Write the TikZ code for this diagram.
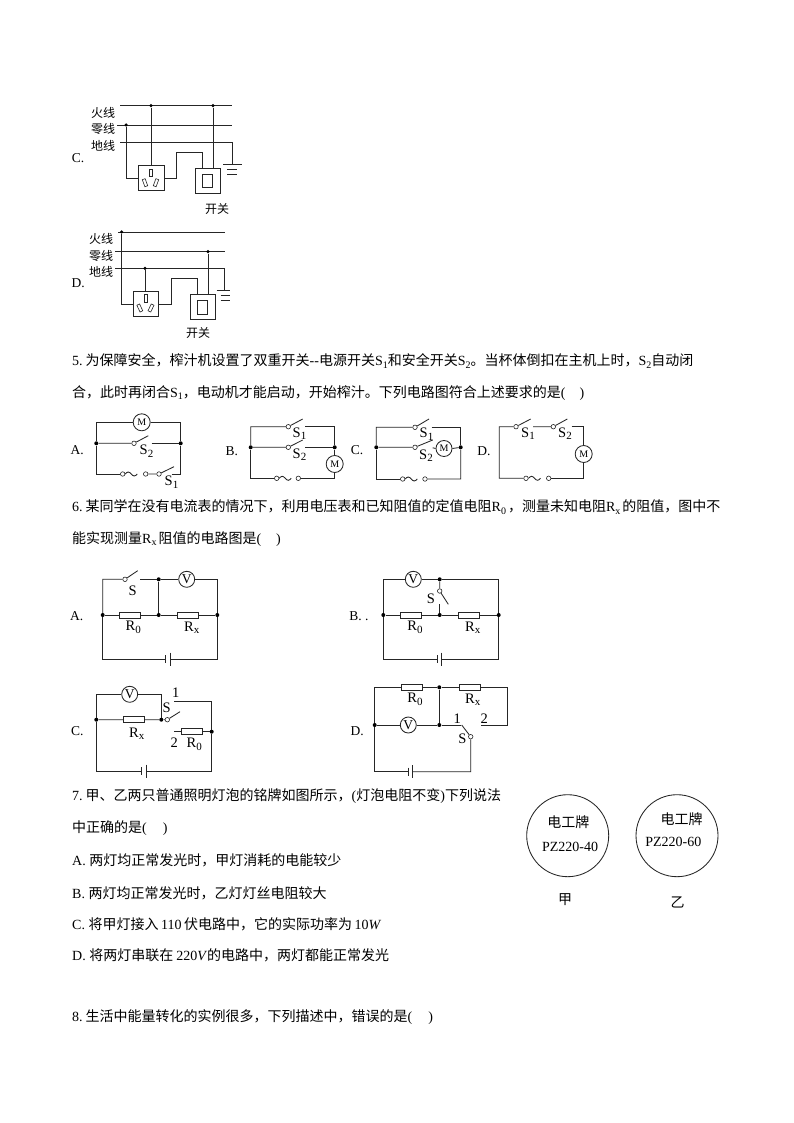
\documentclass[tikz,border=0pt]{standalone}
\usepackage{fontspec}
\setmainfont{Liberation Serif}
\newfontfamily\cjk{Noto Sans CJK SC}
\newcommand{\fz}[1]{\fontsize{#1}{#1}\selectfont}
\newcommand{\lat}[1]{{\rmfamily #1}}
\newcommand{\dn}[2][10]{\raisebox{-2.5pt}{\fz{#1}\rmfamily #2}}
\newcommand{\zc}{\char"FF0C\relax}
\tikzset{
  wire/.style={draw=black!85,line width=0.85pt},
  joint/.style={circle,fill=black,inner sep=0pt,minimum size=4pt},
  contact/.style={circle,draw=black!85,line width=0.6pt,inner sep=0pt,minimum size=4.5pt},
  motor/.style={circle,draw=black!85,line width=0.85pt,inner sep=0pt,minimum size=17pt,font=\fz{10}\rmfamily},
  meter/.style={circle,draw=black!85,line width=0.85pt,inner sep=0pt,minimum size=16pt,font=\fz{13.5}\rmfamily},
  resistor/.style={rectangle,draw=black!85,line width=0.7pt,inner sep=0pt,minimum width=21pt,minimum height=6pt},
  txt/.style={anchor=west,inner sep=0pt,font=\fz{14}\cjk},
  lab/.style={inner sep=0pt,font=\fz{14.5}\rmfamily},
  opt/.style={inner sep=0pt,font=\fz{13.5}\rmfamily},
  zhlab/.style={inner sep=0pt,font=\fz{12}\cjk},
  box/.style={rectangle,draw=black!85,line width=0.85pt,inner sep=0pt},
  hole/.style={rectangle,draw=black!85,line width=0.6pt,inner sep=0pt,minimum width=3pt,minimum height=7.5pt},
}
\begin{document}
\begin{tikzpicture}[x=1pt,y=-1pt]
\useasboundingbox (0,0) rectangle (794,1123);
\fill[white] (0,0) rectangle (794,1123);

% ---------- Q4 C
\node[zhlab] (cL1) at (103,112.7) {火线};
\node[zhlab] (cL2) at (103,129) {零线};
\node[zhlab] (cL3) at (103,146) {地线};
\node[opt] (cOpt) at (78,158) {C.};
\node[zhlab] (cSw) at (217,209) {开关};
\coordinate (cFs) at (120,105.7); \coordinate (cFe) at (232,105.7);
\coordinate (cNs) at (117,125); \coordinate (cNe) at (232,125);
\coordinate (cEs) at (120,142); \coordinate (cEc) at (232,142); \coordinate (cEe) at (232,164);
\draw[wire] (cFs) -- (cFe);
\draw[wire] (cNs) -- (cNe);
\draw[wire] (cEs) -- (cEc) -- (cEe);
\coordinate (cG1a) at (223,164); \coordinate (cG1b) at (242,164);
\coordinate (cG2a) at (227,169.5); \coordinate (cG2b) at (237,169.5);
\coordinate (cG3a) at (227,174.5); \coordinate (cG3b) at (237,174.5);
\draw[wire] (cG1a) -- (cG1b) (cG2a) -- (cG2b) (cG3a) -- (cG3b);
\node[joint,minimum size=3.5pt] (cD1) at (151,105.7) {};
\node[joint,minimum size=3.5pt] (cD2) at (213,105.7) {};
\node[joint,minimum size=3.5pt] (cD3) at (126,125) {};
\node[box,minimum width=25.7pt,minimum height=25pt] (cSock) at (151.2,178.2) {};
\node[box,minimum width=25.7pt,minimum height=25pt] (cSwO) at (207.8,180.8) {};
\node[box,minimum width=10pt,minimum height=13.3pt] (cSwI) at (207.7,180.7) {};
\node[hole] (cH1) at (151,173) {};
\node[hole,rotate=20] (cH2) at (145,182.7) {};
\node[hole,rotate=-20] (cH3) at (156,182.7) {};
\draw[wire] (cD1) -- (cD1 |- cSock.north);
\draw[wire] (cD2) -- (cD2 |- cSwO.north);
\draw[wire] (cD3) |- (cSock.west);
\coordinate (cU1) at (176.7,178.2); \coordinate (cU2) at (176.7,152.3); \coordinate (cU3) at (202.7,152.3);
\draw[wire] (cSock.east) -- (cU1) -- (cU2) -- (cU3) -- (cU3 |- cSwO.north);

% ---------- Q4 D
\node[zhlab] (dL1) at (101,239.3) {火线};
\node[zhlab] (dL2) at (101,255.5) {零线};
\node[zhlab] (dL3) at (101,271.7) {地线};
\node[opt] (dOpt) at (78.3,283.3) {D.};
\node[zhlab] (dSw) at (198,332.7) {开关};
\coordinate (dFs) at (118,232); \coordinate (dFe) at (225,232);
\coordinate (dNs) at (115,251.7); \coordinate (dNe) at (225,251.7);
\coordinate (dEs) at (115,268.3); \coordinate (dEc) at (224.3,268.3); \coordinate (dEe) at (224.3,290);
\draw[wire] (dFs) -- (dFe);
\draw[wire] (dNs) -- (dNe);
\draw[wire] (dEs) -- (dEc) -- (dEe);
\coordinate (dG1a) at (216.7,290); \coordinate (dG1b) at (230,290);
\coordinate (dG2a) at (220.7,295.3); \coordinate (dG2b) at (230,295.3);
\coordinate (dG3a) at (220.7,300.3); \coordinate (dG3b) at (230,300.3);
\draw[wire] (dG1a) -- (dG1b) (dG2a) -- (dG2b) (dG3a) -- (dG3b);
\node[joint,minimum size=3.5pt] (dD1) at (121.7,232) {};
\node[joint,minimum size=3.5pt] (dD2) at (208,251.7) {};
\node[joint,minimum size=3.5pt] (dD3) at (145,268.3) {};
\node[box,minimum width=25.4pt,minimum height=25.4pt] (dSock) at (146,304) {};
\node[box,minimum width=25.7pt,minimum height=25.3pt] (dSwO) at (202.8,306.7) {};
\node[box,minimum width=10pt,minimum height=13.3pt] (dSwI) at (202.7,307.3) {};
\node[hole] (dH1) at (146,298.5) {};
\node[hole,rotate=25] (dH2) at (139.8,308) {};
\node[hole,rotate=-25] (dH3) at (151,308) {};
\draw[wire] (dD1) |- (dSock.west);
\draw[wire] (dD3) -- (dD3 |- dSock.north);
\draw[wire] (dD2) -- (dD2 |- dSwO.north);
\coordinate (dU1) at (171.7,304); \coordinate (dU2) at (171.7,278.3); \coordinate (dU3) at (197.7,278.3);
\draw[wire] (dSock.east) -- (dU1) -- (dU2) -- (dU3) -- (dU3 |- dSwO.north);

% ---------- text Q5
\node[txt] (t51) at (72,361) {\lat{5.}\hspace{3pt}为保障安全\zc 榨汁机设置了双重开关\lat{-{}-}电源开关\lat{S}\dn{1}和安全开关\lat{S}\dn{2}。当杯体倒扣在主机上时\zc\lat{S}\dn{2}自动闭};
\node[txt] (t52) at (72,393) {合\zc 此时再闭合\lat{S}\dn{1}\zc 电动机才能启动\zc 开始榨汁。下列电路图符合上述要求的是\lat{(\hspace{14pt})}};

% Q5 A
\node[opt] (p5A) at (77.3,450) {A.};
\coordinate (aTL) at (96.3,422.3); \coordinate (aTR) at (180.7,422.3);
\coordinate (aBL) at (96.3,474); \coordinate (aBR) at (180.7,474);
\node[joint] (aJL) at (96.3,443.3) {};
\node[joint] (aJR) at (180.7,443.3) {};
\node[motor] (aM) at (141.7,422.3) {M};
\node[contact] (aC1) at (134,443.3) {};
\coordinate (aE1) at (148.3,435.7); \coordinate (aW1) at (151.7,443.3);
\node[contact] (aC2) at (122.7,474) {};
\node[contact] (aC3) at (145.7,474) {};
\node[contact] (aC4) at (159,474) {};
\coordinate (aE2) at (174,466.7); \coordinate (aW2) at (171.5,474);
\draw[wire] (aJL) -- (aTL) -- (aM) -- (aTR) -- (aJR);
\draw[wire] (aJL) -- (aC1) -- (aE1);
\draw[wire] (aW1) -- (aJR);
\draw[wire] (aJL) -- (aBL) -- (aC2);
\draw[wire] (aC3) -- (aC4) -- (aE2);
\draw[wire] (aW2) -- (aBR) -- (aJR);
\draw[wire] (aC2.east) sin ++(3,-2) cos ++(3,2) sin ++(3,2) cos ++(3,-2);
\node[lab] (aS2) at (146.5,451) {S\dn[11]{2}};
\node[lab] (aS1) at (171.5,482) {S\dn[11]{1}};

% Q5 B
\node[opt] (p5B) at (231.7,450.7) {B.};
\coordinate (bTL) at (250.7,426.7); \coordinate (bTR) at (334.7,426.7);
\coordinate (bBL) at (250.7,478.3); \coordinate (bBR) at (334.7,478.3);
\node[joint] (bJL) at (250.7,447.3) {};
\node[joint] (bJR) at (334.7,447.3) {};
\node[motor] (bM) at (334.7,464) {M};
\node[contact] (bC1) at (288.3,426.7) {};
\node[contact] (bC2) at (288.3,447.3) {};
\coordinate (bE1) at (302.7,419); \coordinate (bW1) at (305,426.7);
\coordinate (bE2) at (302.7,440); \coordinate (bW2) at (305,447.3);
\node[contact] (bC3) at (276.7,478.3) {};
\node[contact] (bC4) at (298.3,478.3) {};
\draw[wire] (bJL) -- (bTL) -- (bC1) -- (bE1);
\draw[wire] (bW1) -- (bTR) -- (bJR);
\draw[wire] (bJL) -- (bC2) -- (bE2);
\draw[wire] (bW2) -- (bJR) -- (bM) -- (bBR) -- (bC4);
\draw[wire] (bJL) -- (bBL) -- (bC3);
\draw[wire] (bC3.east) sin ++(3,-2) cos ++(3,2) sin ++(3,2) cos ++(3,-2);
\node[lab] (bS1) at (299.5,433.5) {S\dn[11]{1}};
\node[lab] (bS2) at (299.5,454.5) {S\dn[11]{2}};

% Q5 C
\node[opt] (p5C) at (357,450) {C.};
\coordinate (ccTL) at (376.3,427.3); \coordinate (ccTR) at (460.7,427.3);
\coordinate (ccBL) at (376.3,479); \coordinate (ccBR) at (460.7,479);
\node[joint] (ccJL) at (376.3,447.3) {};
\node[joint] (ccJR) at (460.7,447.3) {};
\node[contact] (ccC1) at (415,427.3) {};
\node[contact] (ccC2) at (415,447.3) {};
\coordinate (ccE1) at (429,419); \coordinate (ccW1) at (431.7,427.3);
\coordinate (ccE2) at (432.7,440); \coordinate (ccW2) at (432.7,447.8);
\node[motor,minimum size=16pt] (ccM) at (444,448.5) {M};
\node[contact] (ccC3) at (402.7,479) {};
\node[contact] (ccC4) at (425,479) {};
\draw[wire] (ccJL) -- (ccTL) -- (ccC1) -- (ccE1);
\draw[wire] (ccW1) -- (ccTR) -- (ccJR);
\draw[wire] (ccJL) -- (ccC2) -- (ccE2);
\draw[wire] (ccW2) -- (ccM.west);
\draw[wire] (ccM.east) -- (ccJR) -- (ccBR) -- (ccC4);
\draw[wire] (ccJL) -- (ccBL) -- (ccC3);
\draw[wire] (ccC3.east) sin ++(3,-2) cos ++(3,2) sin ++(3,2) cos ++(3,-2);
\node[lab] (ccS1) at (426.5,434) {S\dn[11]{1}};
\node[lab] (ccS2) at (426,455.5) {S\dn[11]{2}};

% Q5 D
\node[opt] (p5D) at (484,450.7) {D.};
\coordinate (ddTL) at (499.3,426.7); \coordinate (ddTR) at (583.7,426.7);
\coordinate (ddBL) at (499.3,478.3); \coordinate (ddBR) at (583.7,478.3);
\node[contact] (ddC1) at (516,426.7) {};
\node[contact] (ddC2) at (553.3,426.7) {};
\coordinate (ddE1) at (530.7,419); \coordinate (ddW1) at (533,426.7);
\coordinate (ddE2) at (567.3,419); \coordinate (ddW2) at (571.7,426.7);
\node[motor] (ddM) at (583.7,454) {M};
\node[contact] (ddC3) at (526,478.3) {};
\node[contact] (ddC4) at (548.7,478.3) {};
\draw[wire] (ddC3) -- (ddBL) -- (ddTL) -- (ddC1) -- (ddE1);
\draw[wire] (ddW1) -- (ddC2) -- (ddE2);
\draw[wire] (ddW2) -- (ddTR) -- (ddM) -- (ddBR) -- (ddC4);
\draw[wire] (ddC3.east) sin ++(3,-2) cos ++(3,2) sin ++(3,2) cos ++(3,-2);
\node[lab] (ddS1) at (528,433.5) {S\dn[11]{1}};
\node[lab] (ddS2) at (565,433.5) {S\dn[11]{2}};

% ---------- text Q6
\node[txt] (t61) at (72,507) {\lat{6.}\hspace{3pt}某同学在没有电流表的情况下\zc 利用电压表和已知阻值的定值电阻\lat{R}\dn{0}\hspace{2pt}\zc 测量未知电阻\lat{R}\dn{x}\hspace{2pt}的阻值\zc 图中不};
\node[txt] (t62) at (72,539) {能实现测量\lat{R}\dn{x}\hspace{2pt}阻值的电路图是\lat{(\hspace{15pt})}};

% Q6 A
\node[opt] (p6A) at (76.7,616) {A.};
\coordinate (eTL) at (102.7,579.3); \coordinate (eTR) at (217.3,579.3);
\coordinate (eBL) at (102.7,659); \coordinate (eBR) at (217.3,659);
\node[contact] (eC) at (125,579.3) {};
\coordinate (eE) at (137.7,570.7); \coordinate (eW) at (140,579.3);
\node[meter] (eV) at (186.7,579.3) {V};
\node[joint] (eJ1) at (158.7,579.3) {};
\node[joint] (eJ2) at (158.7,615) {};
\node[joint] (eJL) at (102.7,615) {};
\node[joint] (eJR) at (217.3,615) {};
\node[resistor] (eR0) at (130,615) {};
\node[resistor] (eRx) at (188,615) {};
\coordinate (eB1) at (165.3,659); \coordinate (eB2) at (170,659);
\coordinate (eB1t) at (165.3,655); \coordinate (eB1b) at (165.3,663);
\coordinate (eB2t) at (170,652.5); \coordinate (eB2b) at (170,665.5);
\draw[wire] (eJL) -- (eTL) -- (eC) -- (eE);
\draw[wire] (eW) -- (eJ1) -- (eV) -- (eTR) -- (eJR);
\draw[wire] (eJ1) -- (eJ2);
\draw[wire] (eJL) -- (eR0) -- (eJ2) -- (eRx) -- (eJR);
\draw[wire] (eJL) -- (eBL) -- (eB1);
\draw[wire] (eB2) -- (eBR) -- (eJR);
\draw[wire] (eB1t) -- (eB1b) (eB2t) -- (eB2b);
\node[lab] (eS) at (132.7,590.7) {S};
\node[lab] (eR0t) at (133.3,627.5) {R\dn[11]{0}};
\node[lab] (eRxt) at (191.7,627.5) {R\dn[11]{x}};

% Q6 B
\node[opt] (p6B) at (359,616) {B. .};
\coordinate (fTL) at (383.3,579.3); \coordinate (fTR) at (498.7,579.3);
\coordinate (fBL) at (383.3,659); \coordinate (fBR) at (498.7,659);
\node[meter] (fV) at (413.3,579.3) {V};
\node[joint] (fJ1) at (439.7,579.3) {};
\node[joint] (fJ2) at (439.7,615) {};
\node[joint] (fJL) at (383.3,615) {};
\node[joint] (fJR) at (498.7,615) {};
\node[contact] (fC) at (439.7,591) {};
\coordinate (fE) at (448.3,604.3); \coordinate (fW) at (439.7,604.3);
\node[resistor] (fR0) at (410.7,615) {};
\node[resistor] (fRx) at (469,615) {};
\coordinate (fB1) at (437.3,659); \coordinate (fB2) at (441.7,659);
\coordinate (fB1t) at (437.3,655); \coordinate (fB1b) at (437.3,663);
\coordinate (fB2t) at (441.7,652.5); \coordinate (fB2b) at (441.7,665.5);
\draw[wire] (fJL) -- (fTL) -- (fV) -- (fJ1) -- (fTR) -- (fJR);
\draw[wire] (fJ1) -- (fC) -- (fE);
\draw[wire] (fW) -- (fJ2);
\draw[wire] (fJL) -- (fR0) -- (fJ2) -- (fRx) -- (fJR);
\draw[wire] (fJL) -- (fBL) -- (fB1);
\draw[wire] (fB2) -- (fBR) -- (fJR);
\draw[wire] (fB1t) -- (fB1b) (fB2t) -- (fB2b);
\node[lab] (fS) at (431,598.3) {S};
\node[lab] (fR0t) at (415,627.5) {R\dn[11]{0}};
\node[lab] (fRxt) at (472.7,627.5) {R\dn[11]{x}};

% Q6 C
\node[opt] (p6C) at (77.3,731) {C.};
\coordinate (gTL) at (96.3,694.3); \coordinate (gTR) at (161.3,694.3);
\coordinate (gBL) at (96.3,771); \coordinate (gBR) at (211.7,771);
\coordinate (gTC) at (174,701); \coordinate (gTE) at (211.7,701);
\coordinate (gR2) at (174,731.7);
\node[meter] (gV) at (129.7,694.3) {V};
\node[joint] (gJL) at (96.3,719.7) {};
\node[joint] (gJR) at (161.3,719.7) {};
\node[joint] (gJ3) at (211.7,731.7) {};
\node[contact] (gC) at (167.3,719.7) {};
\coordinate (gE) at (180,711.7);
\node[resistor] (gRx) at (134,719.7) {};
\node[resistor] (gR0) at (192.2,731.7) {};
\coordinate (gB1) at (141.7,771); \coordinate (gB2) at (146,771);
\coordinate (gB1t) at (141.7,767); \coordinate (gB1b) at (141.7,775);
\coordinate (gB2t) at (146,764.5); \coordinate (gB2b) at (146,777.5);
\draw[wire] (gJL) -- (gTL) -- (gV) -- (gTR) -- (gJR);
\draw[wire] (gJL) -- (gRx) -- (gJR) -- (gC) -- (gE);
\draw[wire] (gTC) -- (gTE) -- (gJ3) -- (gBR) -- (gB2);
\draw[wire] (gR2) -- (gR0) -- (gJ3);
\draw[wire] (gJL) -- (gBL) -- (gB1);
\draw[wire] (gB1t) -- (gB1b) (gB2t) -- (gB2b);
\node[lab] (g1) at (175.7,692.7) {1};
\node[lab] (gS) at (166.7,707.7) {S};
\node[lab] (gRxt) at (136.7,733.5) {R\dn[11]{x}};
\node[lab] (g2) at (174.3,742.7) {2};
\node[lab] (gR0t) at (194.3,744.5) {R\dn[11]{0}};

% Q6 D
\node[opt] (p6D) at (357.3,731) {D.};
\coordinate (hTL) at (374.7,687.3); \coordinate (hTR) at (507.3,687.3);
\coordinate (hMR) at (507.3,725); \coordinate (hC2) at (481.3,725);
\coordinate (hBL) at (374.7,771.7); \coordinate (hBR) at (470.7,771.7);
\coordinate (hC1) at (460.7,725); \coordinate (hE) at (461.7,725);
\node[resistor] (hR0) at (412.2,687.3) {};
\node[resistor] (hRx) at (470,687.3) {};
\node[joint] (hJ1) at (439.3,687.3) {};
\node[joint] (hJL) at (374.7,725) {};
\node[joint] (hJ2) at (439.3,725) {};
\node[meter] (hV) at (408.3,725) {V};
\node[contact] (hC) at (470.7,736.7) {};
\coordinate (hB1) at (408,771.7); \coordinate (hB2) at (412.7,771.7);
\coordinate (hB1t) at (408,767.7); \coordinate (hB1b) at (408,775.7);
\coordinate (hB2t) at (412.7,765.2); \coordinate (hB2b) at (412.7,778.2);
\draw[wire] (hJL) -- (hTL) -- (hR0) -- (hJ1) -- (hRx) -- (hTR) -- (hMR) -- (hC2);
\draw[wire] (hJ1) -- (hJ2);
\draw[wire] (hJL) -- (hV) -- (hJ2) -- (hC1);
\draw[wire] (hE) -- (hC) -- (hBR) -- (hB2);
\draw[wire] (hJL) -- (hBL) -- (hB1);
\draw[wire] (hB1t) -- (hB1b) (hB2t) -- (hB2b);
\node[lab] (hR0t) at (415,699.5) {R\dn[11]{0}};
\node[lab] (hRxt) at (472.7,699.5) {R\dn[11]{x}};
\node[lab] (h1) at (457.3,718.3) {1};
\node[lab] (h2) at (484.3,718.3) {2};
\node[lab] (hS) at (462.3,739) {S};

% ---------- text Q7
\node[txt] (t71) at (72,796) {\lat{7.}\hspace{3pt}甲、乙两只普通照明灯泡的铭牌如图所示\zc\lat{(}灯泡电阻不变\lat{)}下列说法};
\node[txt] (t72) at (72,828) {中正确的是\lat{(\hspace{16pt})}};
\node[txt] (t73) at (72,860) {\lat{A. }两灯均正常发光时\zc 甲灯消耗的电能较少};
\node[txt] (t74) at (72,893) {\lat{B. }两灯均正常发光时\zc 乙灯灯丝电阻较大};
\node[txt] (t75) at (72,924) {\lat{C. }将甲灯接入\lat{\hspace{2.5pt}110\hspace{2.5pt}}伏电路中\zc 它的实际功率为\lat{\hspace{2.5pt}10\textit{W}}};
\node[txt] (t76) at (72,955) {\lat{D. }将两灯串联在\lat{\hspace{3pt}220\textit{V}}的电路中\zc 两灯都能正常发光};
\node[txt] (t81) at (72,1017) {\lat{8.}\hspace{3pt}生活中能量转化的实例很多\zc 下列描述中\zc 错误的是\lat{(\hspace{16pt})}};

% Bulbs
\node[circle,draw=black!85,line width=0.85pt,inner sep=0pt,minimum size=82pt] (n1) at (567.7,835.7) {};
\node[circle,draw=black!85,line width=0.85pt,inner sep=0pt,minimum size=82pt] (n2) at (677,835.7) {};
\node[inner sep=0pt,font=\fz{14}\cjk] (n1a) at (568.3,821.7) {电工牌};
\node[inner sep=0pt,font=\fz{14}\rmfamily] (n1b) at (570,846.7) {PZ220-40};
\node[inner sep=0pt,font=\fz{14}\cjk] (n2a) at (681.7,819.3) {电工牌};
\node[inner sep=0pt,font=\fz{14}\rmfamily] (n2b) at (673.3,842.3) {PZ220-60};
\node[inner sep=0pt,font=\fz{14}\cjk] (n1c) at (565,899.3) {甲};
\node[inner sep=0pt,font=\fz{14}\cjk] (n2c) at (677.7,902.3) {乙};
\end{tikzpicture}
\end{document}
